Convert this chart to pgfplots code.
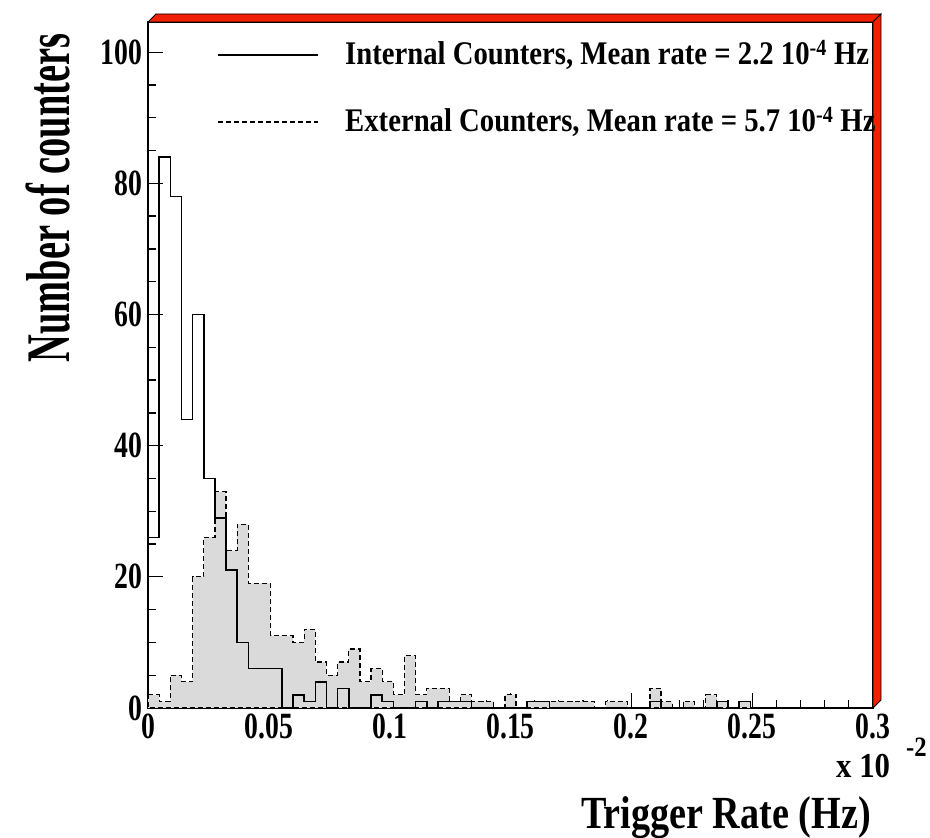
\documentclass[border=0pt]{standalone}
\usepackage{fontspec}
\setmainfont{Liberation Serif}
\newfontfamily\condY[FakeStretch=0.62]{Liberation Serif}
\newfontfamily\condX[FakeStretch=0.83]{Liberation Serif}
\newfontfamily\condS[FakeStretch=0.88]{Liberation Serif}
\newfontfamily\condT[FakeStretch=0.75]{Liberation Serif}
\newfontfamily\condL[FakeStretch=0.87]{Liberation Serif}
\usepackage{pgfplots}
\usepackage{pgfplotstable}
\pgfplotsset{compat=1.18}
\definecolor{framered}{RGB}{240,32,0}
\definecolor{histfill}{RGB}{218,218,218}

\pgfplotstableread{
x y
0 2
0.004615 1
0.009231 5
0.013846 4
0.018462 20
0.023077 26
0.027692 33
0.032308 24
0.036923 28
0.041538 19
0.046154 19
0.050769 11
0.055385 11
0.060000 10
0.064615 12
0.069231 7
0.073846 5
0.078462 7
0.083077 9
0.087692 4
0.092308 6
0.096923 4
0.101538 2
0.106154 8
0.110769 2
0.115385 3
0.120000 3
0.124615 1
0.129231 2
0.133846 1
0.138462 1
0.143077 0
0.147692 2
0.152308 0
0.156923 1
0.161538 1
0.166154 1
0.170769 1
0.175385 1
0.180000 1
0.184615 0
0.189231 1
0.193846 1
0.198462 0
0.203077 0
0.207692 3
0.212308 1
0.216923 0
0.221538 1
0.226154 0
0.230769 2
0.235385 1
0.240000 0
0.244615 1
0.249231 0
0.300000 0
}\externaltab

\pgfplotstableread{
x y
0 26
0.004615 84
0.009231 78
0.013846 44
0.018462 60
0.023077 35
0.027692 29
0.032308 21
0.036923 10
0.041538 6
0.046154 6
0.050769 6
0.055385 0
0.060000 2
0.064615 1
0.069231 4
0.073846 0
0.078462 3
0.083077 0
0.087692 0
0.092308 2
0.096923 1
0.101538 0
0.106154 0
0.110769 1
0.115385 0
0.120000 1
0.124615 1
0.129231 1
0.133846 0
0.156923 1
0.161538 1
0.166154 0
0.207692 1
0.212308 0
0.235385 1
0.240000 0
0.244615 1
0.249231 0
0.300000 0
}\internaltab

\begin{document}
\begin{tikzpicture}[x=1pt,y=1pt]
\useasboundingbox (0,0) rectangle (930,838);
\begin{axis}[
  at={(148pt,130pt)}, anchor=south west,
  scale only axis, width=725pt, height=686pt,
  xmin=0, xmax=0.3, ymin=0, ymax=104.6,
  axis line style={line width=1.3pt},
  xtick={0,0.05,0.1,0.15,0.2,0.25,0.3},
  xticklabels={0,0.05,0.1,0.15,0.2,0.25,0.3},
  minor x tick num=4,
  ytick={0,20,40,60,80,100},
  minor y tick num=3,
  tick align=inside,
  xtick pos=bottom, ytick pos=left,
  major tick length=15pt, minor tick length=7.5pt,
  every tick/.style={black, line width=1.3pt},
  ticklabel style={font=\condT\bfseries\fontsize{37}{37}\selectfont},
  /pgf/number format/assume math mode=true,
  xticklabel style={yshift=-2pt},
  yticklabel style={xshift=-2pt},
  clip=false,
]
\addplot[const plot, draw=black, line width=1.2pt, dash pattern=on 5pt off 3pt, fill=histfill] table[x=x,y=y] {\externaltab} \closedcycle;
\addplot[const plot, draw=black, line width=1.6pt] table[x=x,y=y] {\internaltab};
\end{axis}
% 3D red frame
\draw[line width=0.8pt, fill=framered] (148,816) -- (156,824) -- (881,824) -- (873,816) -- cycle;
\draw[line width=0.8pt, fill=framered] (873,816) -- (881,824) -- (881,138) -- (873,130) -- cycle;
% legend
\draw[line width=1.3pt] (218,783) -- (318,783);
\draw[line width=1.2pt, dash pattern=on 5pt off 3pt] (218,716) -- (318,716);
\node[anchor=west, inner sep=0pt, font=\condL\bfseries\fontsize{33}{33}\selectfont] at (345,783) {Internal Counters, Mean rate = 2.2 10\textsuperscript{-4} Hz};
\node[anchor=west, inner sep=0pt, font=\condL\bfseries\fontsize{33}{33}\selectfont] at (345,716) {External Counters, Mean rate = 5.7 10\textsuperscript{-4} Hz};
% axis titles
\node[rotate=90, inner sep=0pt, font=\condY\bfseries\fontsize{62}{62}\selectfont] at (48,640) {Number of counters};
\node[anchor=east, inner sep=0pt, font=\condX\bfseries\fontsize{46}{46}\selectfont] at (871,20) {Trigger Rate (Hz)};
\node[anchor=base west, inner sep=0pt, font=\condS\bfseries\fontsize{35}{35}\selectfont] at (836,60) {x 10};
\node[anchor=base west, inner sep=0pt, font=\condS\bfseries\fontsize{28}{28}\selectfont] at (906,81) {-2};
\end{tikzpicture}
\end{document}
